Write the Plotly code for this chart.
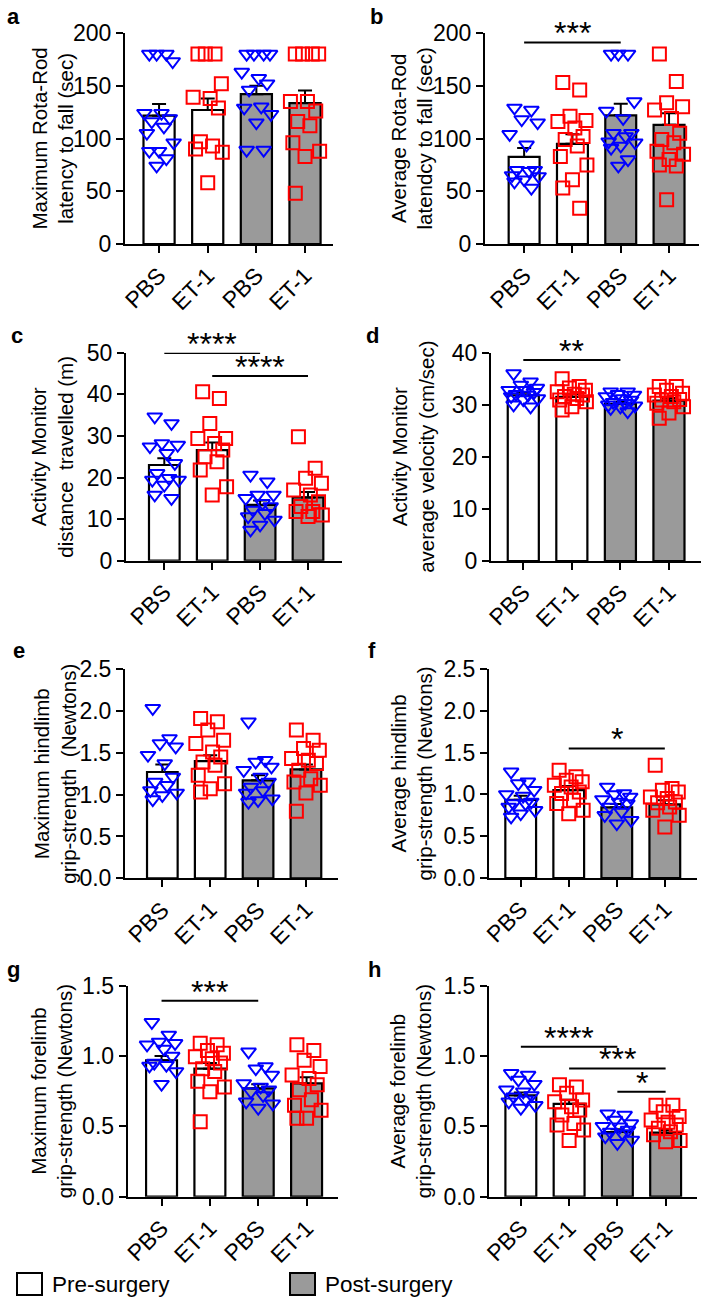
import plotly.graph_objects as go

W, H = 708, 1303
FONT = "Liberation Sans, Arial, Helvetica, sans-serif"
BLUE = "#0000ff"
RED = "#ff0000"
GREY = "#9a9a9a"

categories = ["PBS", "ET-1", "PBS", "ET-1"]
legend_labels = ["Pre-surgery", "Post-surgery"]

# a - maximum rota-rod
a_means = [121.6, 127.0, 142.0, 133.6]
a_sem = [11, 11, 8, 12]
a_pbs_pre = [180, 180, 180, 173, 124, 124, 119, 116, 111, 105, 96, 88, 88, 81, 74]
a_et1_pre = [180, 180, 180, 152, 139, 138, 129, 97, 93, 90, 87, 58]
a_pbs_post = [180, 180, 180, 180, 163, 157, 152, 146, 130, 129, 123, 115, 89, 89]
a_et1_post = [180, 180, 180, 180, 135, 135, 126, 116, 112, 96, 88, 83, 48]
a_sig = []

# b - average rota-rod
b_means = [82.5, 95.0, 122.0, 113.0]
b_sem = [8.5, 9, 11, 11]
b_pbs_pre = [129, 127, 118, 115, 104, 94, 70, 70, 69, 65, 64, 61, 59, 53]
b_et1_pre = [153, 146, 121, 117, 116, 110, 102, 99, 93, 83, 75, 61, 53, 34]
b_pbs_post = [180, 180, 180, 135, 126, 119, 105, 105, 102, 97, 96, 93, 91, 80, 74]
b_et1_post = [180, 154, 134, 130, 127, 119, 105, 99, 96, 88, 85, 80, 75, 74, 42]
b_sig = [(0, 2, 191, "***")]

# c - distance travelled
c_means = [23.0, 26.6, 13.4, 15.2]
c_sem = [1.6, 1.8, 1.1, 1.3]
c_pbs_pre = [34.6, 33.0, 28.2, 27.8, 27.4, 25.8, 23.4, 21.0, 19.8, 19.4, 19.4, 18.2, 15.8, 15.0]
c_et1_pre = [40.6, 39.0, 33.0, 29.4, 29.4, 28.2, 26.6, 25.0, 23.8, 21.8, 17.8, 15.8]
c_pbs_post = [20.6, 19.0, 15.8, 15.8, 15.0, 13.8, 13.0, 12.2, 11.4, 10.6, 9.8, 8.6, 7.4]
c_et1_post = [29.8, 22.2, 19.8, 18.6, 17.0, 15.8, 14.2, 13.0, 11.8, 11.8, 11.0, 10.6]
c_sig = [(0, 2, 49.9, "****"), (1, 3, 44.4, "****")]

# d - average velocity
d_means = [31.8, 31.5, 30.2, 30.8]
d_sem = [0.5, 0.5, 0.4, 0.5]
d_pbs_pre = [36.0, 34.4, 33.8, 33.2, 32.8, 32.8, 32.4, 32.0, 31.9, 31.6, 31.2, 31.0, 30.0, 29.6]
d_et1_pre = [35.0, 33.5, 33.2, 32.8, 32.5, 32.0, 31.9, 31.6, 31.2, 30.9, 30.6, 29.6, 29.0]
d_pbs_post = [32.5, 32.5, 32.0, 31.9, 31.6, 31.2, 30.9, 30.5, 30.3, 30.0, 29.8, 29.6, 29.3, 28.7]
d_et1_post = [33.5, 33.5, 32.8, 32.2, 31.9, 31.6, 31.0, 30.9, 30.6, 30.3, 29.6, 28.4, 27.4]
d_sig = [(0, 2, 38.6, "**")]

# e - maximum hindlimb grip
e_means = [1.27, 1.40, 1.17, 1.30]
e_sem = [0.09, 0.07, 0.06, 0.06]
e_pbs_pre = [2.03, 1.67, 1.61, 1.57, 1.47, 1.37, 1.21, 1.15, 1.11, 1.05, 1.02, 0.99, 0.94]
e_et1_pre = [1.91, 1.87, 1.77, 1.65, 1.61, 1.51, 1.45, 1.39, 1.35, 1.23, 1.13, 1.07, 1.03]
e_pbs_post = [1.87, 1.41, 1.39, 1.33, 1.29, 1.21, 1.15, 1.09, 1.05, 1.02, 0.95, 0.93, 0.91]
e_et1_post = [1.77, 1.65, 1.55, 1.53, 1.43, 1.41, 1.37, 1.29, 1.19, 1.15, 1.11, 1.02, 0.80]
e_sig = []

# f - average hindlimb grip
f_means = [0.935, 1.05, 0.845, 0.88]
f_sem = [0.05, 0.05, 0.04, 0.05]
f_pbs_pre = [1.27, 1.15, 1.13, 1.05, 1.0, 0.98, 0.91, 0.89, 0.89, 0.85, 0.81, 0.77, 0.73]
f_et1_pre = [1.29, 1.21, 1.17, 1.15, 1.11, 1.09, 1.03, 1.01, 0.93, 0.89, 0.81, 0.77]
f_pbs_post = [1.09, 1.01, 1.0, 0.97, 0.94, 0.91, 0.89, 0.85, 0.79, 0.75, 0.69, 0.65]
f_et1_post = [1.35, 1.07, 1.05, 1.03, 0.97, 0.95, 0.91, 0.90, 0.85, 0.81, 0.75, 0.61]
f_sig = [(1, 3, 1.55, "*")]

# g - maximum forelimb grip
g_means = [0.97, 0.91, 0.77, 0.805]
g_sem = [0.03, 0.04, 0.03, 0.045]
g_pbs_pre = [1.24, 1.15, 1.10, 1.09, 1.08, 1.05, 1.0, 0.95, 0.935, 0.93, 0.89, 0.80]
g_et1_pre = [1.09, 1.08, 1.04, 1.02, 0.995, 0.98, 0.95, 0.91, 0.89, 0.82, 0.78, 0.746, 0.533]
g_pbs_post = [1.03, 0.925, 0.91, 0.865, 0.805, 0.78, 0.76, 0.746, 0.72, 0.675, 0.66, 0.63]
g_et1_post = [1.08, 1.04, 0.97, 0.925, 0.865, 0.84, 0.795, 0.76, 0.69, 0.65, 0.615, 0.557, 0.557]
g_sig = [(0, 2, 1.393, "***")]

# h - average forelimb grip
h_means = [0.72, 0.66, 0.46, 0.455]
h_sem = [0.02, 0.03, 0.02, 0.02]
h_pbs_pre = [0.877, 0.865, 0.83, 0.80, 0.76, 0.746, 0.72, 0.71, 0.69, 0.675, 0.65, 0.63]
h_et1_pre = [0.795, 0.78, 0.735, 0.687, 0.675, 0.64, 0.616, 0.58, 0.52, 0.51, 0.474, 0.40]
h_pbs_post = [0.59, 0.58, 0.545, 0.52, 0.50, 0.497, 0.474, 0.46, 0.45, 0.427, 0.403, 0.38]
h_et1_post = [0.65, 0.65, 0.604, 0.57, 0.545, 0.53, 0.51, 0.486, 0.462, 0.44, 0.40, 0.39]
h_sig = [(0, 2, 1.066, "****"), (1, 3, 0.912, "***"), (2, 3, 0.746, "*")]

titles = {
    "a": "Maximum Rota-Rod<br>latency to fall (sec)",
    "b": "Average Rota-Rod<br>latendcy to fall (sec)",
    "c": "Activity Monitor<br>distance&nbsp; travelled (m)",
    "d": "Activity Monitor<br>average velocity (cm/sec)",
    "e": "Maximum hindlimb<br>grip-strength&nbsp; (Newtons)",
    "f": "Average hindlimb<br>grip-strength (Newtons)",
    "g": "Maximum forelimb<br>grip-strength (Newtons)",
    "h": "Average forelimb<br>grip-strength (Newtons)",
}

# layout in pixels: plot box (left, right, top, bottom), x range, y max, y step
panels = [
    dict(key="a", means=a_means, sem=a_sem, pts=[a_pbs_pre, a_et1_pre, a_pbs_post, a_et1_post], sig=a_sig,
         box=(125, 333, 33, 244), xr=(-0.70, 3.575), ymax=200, step=50, fmt="d", lab=(5, 17), tx=52),
    dict(key="b", means=b_means, sem=b_sem, pts=[b_pbs_pre, b_et1_pre, b_pbs_post, b_et1_post], sig=b_sig,
         box=(485, 699, 33, 244), xr=(-0.81, 3.62), ymax=200, step=50, fmt="d", lab=(368, 17), tx=411),
    dict(key="c", means=c_means, sem=c_sem, pts=[c_pbs_pre, c_et1_pre, c_pbs_post, c_et1_post], sig=c_sig,
         box=(126, 342, 352.7, 560.7), xr=(-0.80, 3.71), ymax=50, step=10, fmt="d", lab=(9, 335), tx=52),
    dict(key="d", means=d_means, sem=d_sem, pts=[d_pbs_pre, d_et1_pre, d_pbs_post, d_et1_post], sig=d_sig,
         box=(491, 701, 352.7, 561), xr=(-0.665, 3.66), ymax=40, step=10, fmt="d", lab=(364, 335), tx=413),
    dict(key="e", means=e_means, sem=e_sem, pts=[e_pbs_pre, e_et1_pre, e_pbs_post, e_et1_post], sig=e_sig,
         box=(125, 338, 669, 878.3), xr=(-0.78, 3.67), ymax=2.5, step=0.5, fmt=".1f", lab=(11, 650), tx=55),
    dict(key="f", means=f_means, sem=f_sem, pts=[f_pbs_pre, f_et1_pre, f_pbs_post, f_et1_post], sig=f_sig,
         box=(489, 697, 669, 878), xr=(-0.66, 3.67), ymax=2.5, step=0.5, fmt=".1f", lab=(366, 650), tx=411),
    dict(key="g", means=g_means, sem=g_sem, pts=[g_pbs_pre, g_et1_pre, g_pbs_post, g_et1_post], sig=g_sig,
         box=(127.7, 338, 985.7, 1196.7), xr=(-0.70, 3.65), ymax=1.5, step=0.5, fmt=".1f", lab=(5, 969), tx=52),
    dict(key="h", means=h_means, sem=h_sem, pts=[h_pbs_pre, h_et1_pre, h_pbs_post, h_et1_post], sig=h_sig,
         box=(489, 697, 985.7, 1196.7), xr=(-0.66, 3.65), ymax=1.5, step=0.5, fmt=".1f", lab=(366, 969), tx=411),
]

BAR_FILL = ["white", "white", GREY, GREY]
POINT_STYLE = [("triangle-down-open", BLUE), ("square-open", RED),
               ("triangle-down-open", BLUE), ("square-open", RED)]
# horizontal spread of the dots around each bar centre
OFFSETS = [-0.2, 0.15, -0.05, 0.28, -0.3, 0.05, 0.22, -0.15, 0.1, -0.25, 0.3, 0.0]


def px(x):
    return x / W


def py(y):
    return 1 - y / H


fig = go.Figure()
axes = {}
annotations = []
shapes = []

for i, p in enumerate(panels, start=1):
    xa = "x" if i == 1 else f"x{i}"
    ya = "y" if i == 1 else f"y{i}"
    cats = list(range(len(categories)))

    fig.add_trace(go.Bar(
        x=cats, y=p["means"], width=0.64, xaxis=xa, yaxis=ya,
        marker=dict(color=BAR_FILL, line=dict(color="black", width=2.2)),
        error_y=dict(type="data", array=p["sem"], arrayminus=[0] * 4, symmetric=False,
                     color="black", thickness=2, width=7),
        showlegend=False, hoverinfo="skip"))

    for k, vals in enumerate(p["pts"]):
        sym, col = POINT_STYLE[k]
        xs = [k + OFFSETS[j % len(OFFSETS)] for j in range(len(vals))]
        fig.add_trace(go.Scatter(
            x=xs, y=vals, mode="markers", xaxis=xa, yaxis=ya, cliponaxis=False,
            marker=dict(symbol=sym, size=13, color=col, line=dict(color=col, width=2)),
            showlegend=False, hoverinfo="skip"))

    left, right, top, bottom = p["box"]
    n_ticks = int(round(p["ymax"] / p["step"])) + 1
    yt = [round(p["step"] * t, 3) for t in range(n_ticks)]
    axes["xaxis" + ("" if i == 1 else str(i))] = dict(
        domain=[px(left), px(right)], range=list(p["xr"]), anchor=ya, automargin=False,
        tickvals=cats, ticktext=categories, tickangle=-45,
        ticks="outside", ticklen=7, tickwidth=2, tickcolor="black",
        showline=True, linewidth=2, linecolor="black",
        showgrid=False, zeroline=False, tickfont=dict(size=23, color="black"))
    axes["yaxis" + ("" if i == 1 else str(i))] = dict(
        domain=[py(bottom), py(top)], range=[0, p["ymax"]], anchor=xa, automargin=False,
        tickvals=yt, tickformat=p["fmt"],
        ticks="outside", ticklen=7, tickwidth=2, tickcolor="black",
        showline=True, linewidth=2, linecolor="black",
        showgrid=False, zeroline=False, tickfont=dict(size=23, color="black"))

    # y title as rotated annotation
    annotations.append(dict(
        x=px(p["tx"]), y=py((top + bottom) / 2), xref="paper", yref="paper",
        text=titles[p["key"]], textangle=-90, showarrow=False,
        xanchor="center", yanchor="middle", font=dict(size=20.5, color="black")))

    # panel letter
    annotations.append(dict(
        x=px(p["lab"][0]), y=py(p["lab"][1]), xref="paper", yref="paper",
        text="<b>%s</b>" % p["key"], showarrow=False,
        xanchor="left", yanchor="middle", font=dict(size=22, color="black")))

    # significance bars
    for x0, x1, yv, label in p["sig"]:
        shapes.append(dict(type="line", xref=xa, yref=ya, x0=x0, x1=x1, y0=yv, y1=yv,
                           line=dict(color="black", width=2)))
        annotations.append(dict(
            x=(x0 + x1) / 2, y=yv, xref=xa, yref=ya, text=label, showarrow=False,
            xanchor="center", yanchor="middle", yshift=9,
            font=dict(size=32, color="black")))

# legend drawn by hand at the bottom
for (bx, tx), fill, label in zip([(17, 50), (290, 323)], ["white", GREY], legend_labels):
    shapes.append(dict(type="rect", xref="paper", yref="paper",
                       x0=px(bx), x1=px(bx + 25), y0=py(1295), y1=py(1273),
                       fillcolor=fill, line=dict(color="black", width=2)))
    annotations.append(dict(x=px(tx), y=py(1284), xref="paper", yref="paper",
                            text=label, showarrow=False, xanchor="left", yanchor="middle",
                            font=dict(size=22.5, color="black")))

fig.update_layout(
    width=W, height=H, margin=dict(l=0, r=0, t=0, b=0, pad=0, autoexpand=False),
    paper_bgcolor="white", plot_bgcolor="white",
    font=dict(family=FONT, color="black"),
    showlegend=False, annotations=annotations, shapes=shapes,
    **axes)

# the page's default body margin would push the figure off the 708x1303 window
fig.write_html("out.html", config={"displayModeBar": False},
               post_script="document.body.style.margin = '0';")
